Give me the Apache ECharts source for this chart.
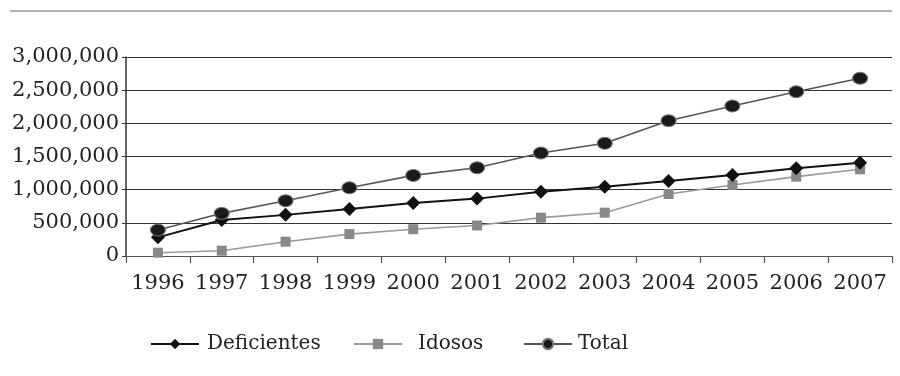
<!DOCTYPE html>
<html>
<head>
<meta charset="utf-8">
<style>
  html, body { margin: 0; padding: 0; background: #fff; }
  #chart { width: 900px; height: 376px; }
</style>
<script src="https://cdn.jsdelivr.net/npm/echarts@6/dist/echarts.min.js"></script>
</head>
<body>
<div id="chart"></div>
<script>
// Yearly counts, 1996–2007
const years = ['1996', '1997', '1998', '1999', '2000', '2001', '2002', '2003', '2004', '2005', '2006', '2007'];
const deficientes = [281000, 543000, 620000, 709000, 800000, 865000, 970000, 1045000, 1130000, 1221000, 1322000, 1407000];
const idosos = [50000, 80000, 216000, 330000, 404000, 460000, 578000, 653000, 935000, 1070000, 1196000, 1307000];
const total = [392000, 643000, 834000, 1028000, 1215000, 1330000, 1553000, 1699000, 2040000, 2261000, 2477000, 2679000];
const yTicks = [0, 500000, 1000000, 1500000, 2000000, 2500000, 3000000];
const seriesNames = ['Deficientes', 'Idosos', 'Total'];

const serif = 'DejaVu Serif';
const ink = '#222';

const fmt = v => String(v).replace(/\B(?=(\d{3})+(?!\d))/g, ',');

// one legend block per series so each entry sits at its own spot
const legendLeft = [145, 348, 518];
const legendTextPad = [3, 11, 1];
const legends = seriesNames.map((name, i) => ({
  data: [name],
  left: legendLeft[i],
  top: 329,
  itemWidth: 48,
  itemHeight: 13,
  textStyle: { fontFamily: serif, fontSize: 20, color: ink, padding: [0, 0, 0, legendTextPad[i]] }
}));

const chart = echarts.init(document.getElementById('chart'), null, { renderer: 'canvas' });

chart.setOption({
  animation: false,
  backgroundColor: '#fff',
  textStyle: { fontFamily: serif, color: ink },
  grid: { left: 126, right: 8, top: 57, bottom: 120, containLabel: false },
  graphic: [
    {
      type: 'line',
      shape: { x1: 10, y1: 11, x2: 892, y2: 11 },
      style: { stroke: '#666', lineWidth: 1 }
    }
  ],
  legend: legends,
  xAxis: {
    type: 'category',
    data: years,
    boundaryGap: true,
    axisLine: { lineStyle: { color: '#555', width: 1.2 } },
    axisTick: { show: true, length: 7, lineStyle: { color: '#555', width: 1.2 } },
    axisLabel: { fontFamily: serif, fontSize: 21, color: ink, margin: 17, interval: 0 },
    splitLine: { show: false }
  },
  yAxis: {
    type: 'value',
    min: 0,
    max: yTicks[yTicks.length - 1],
    interval: yTicks[1] - yTicks[0],
    axisLine: { show: true, lineStyle: { color: '#333', width: 1.5 } },
    axisTick: { show: true, length: 4, lineStyle: { color: '#333' } },
    axisLabel: {
      fontFamily: serif, fontSize: 21, color: ink, margin: 7,
      formatter: v => fmt(v)
    },
    splitLine: { show: true, lineStyle: { color: '#333', width: 1.2 } }
  },
  series: [
    {
      name: seriesNames[0],
      type: 'line',
      data: deficientes,
      symbol: 'diamond',
      symbolSize: 14,
      itemStyle: { color: '#111' },
      lineStyle: { color: '#111', width: 2 },
      z: 3
    },
    {
      name: seriesNames[1],
      type: 'line',
      data: idosos,
      symbol: 'rect',
      symbolSize: 10,
      itemStyle: { color: '#888' },
      lineStyle: { color: '#999', width: 1.6 },
      z: 2
    },
    {
      name: seriesNames[2],
      type: 'line',
      data: total,
      symbol: 'circle',
      symbolSize: [15, 12],
      itemStyle: { color: '#1a1a1a', borderColor: '#777', borderWidth: 1 },
      lineStyle: { color: '#555', width: 1.6 },
      z: 4
    }
  ]
});
</script>
</body>
</html>
